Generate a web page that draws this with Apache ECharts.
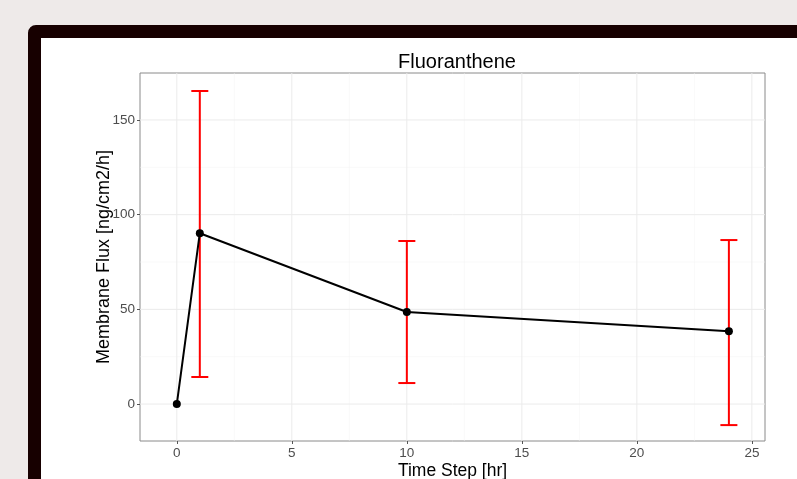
<!DOCTYPE html>
<html>
<head>
<meta charset="utf-8">
<script src="https://cdn.jsdelivr.net/npm/echarts@6/dist/echarts.min.js"></script>
<style>
  html, body { margin: 0; padding: 0; background: #eeeae9; overflow: hidden; }
  #frame {
    position: absolute; left: 28px; top: 25px; width: 800px; height: 500px;
    background: #fff; border: 13px solid #170000; border-radius: 8px;
  }
  #main { position: absolute; left: 0; top: 0; width: 797px; height: 479px; }
</style>
</head>
<body>
<div id="frame"></div>
<div id="main"></div>
<script>
// data
var timeSteps = [0, 1, 10, 24];
var fluxMean = [0, 90.2, 48.6, 38.4];
var errTime = [1, 10, 24];
var errLow = [14.3, 11.1, -11.1];
var errHigh = [165.3, 86.1, 86.6];

var xTicks = [0, 5, 10, 15, 20, 25];
var xMinor = [2.5, 7.5, 12.5, 17.5, 22.5];
var yTicks = [0, 50, 100, 150];
var yMinor = [25, 75, 125];

var chart = echarts.init(document.getElementById('main'), null, { width: 797, height: 479 });

function gridLine(dir, width, color) {
  return function (params, api) {
    var cs = params.coordSys;
    var p = api.coord(dir === 'x' ? [api.value(0), 0] : [0, api.value(0)]);
    var shape = dir === 'x'
      ? { x1: p[0], y1: cs.y, x2: p[0], y2: cs.y + cs.height }
      : { x1: cs.x, y1: p[1], x2: cs.x + cs.width, y2: p[1] };
    return { type: 'line', shape: shape, style: { stroke: color, lineWidth: width }, silent: true };
  };
}

var errData = errTime.map(function (t, i) { return [t, errLow[i], errHigh[i]]; });
var lineData = timeSteps.map(function (t, i) { return [t, fluxMean[i]]; });

var font = 'Liberation Sans';

var option = {
  animation: false,
  backgroundColor: 'transparent',
  title: {
    text: 'Fluoranthene',
    left: 452, top: 47, textAlign: 'center',
    textStyle: { fontFamily: font, fontSize: 20, fontWeight: 'normal', color: '#000' }
  },
  grid: {
    left: 140, top: 73, width: 625, height: 368,
    outerBoundsMode: 'none', containLabel: false,
    show: true, backgroundColor: '#fff', borderColor: '#8a8a8a', borderWidth: 1
  },
  xAxis: {
    type: 'value', min: -1.6, max: 25.57,
    name: 'Time Step [hr]', nameLocation: 'middle', nameGap: 21, nameMoveOverlap: false,
    nameTextStyle: { fontFamily: font, fontSize: 17.5, color: '#000' },
    axisLine: { show: false, onZero: false },
    axisTick: { show: true, length: 3, customValues: xTicks, lineStyle: { color: '#555' } },
    axisLabel: { customValues: xTicks, fontFamily: font, fontSize: 13.5, color: '#4d4d4d', margin: 5 },
    splitLine: { show: false }
  },
  yAxis: {
    type: 'value', min: -19.5, max: 174.8,
    name: 'Membrane Flux [ng/cm2/h]', nameLocation: 'middle', nameGap: 27, nameMoveOverlap: false,
    nameTextStyle: { fontFamily: font, fontSize: 18, color: '#000' },
    axisLine: { show: false, onZero: false },
    axisTick: { show: true, length: 3, customValues: yTicks, lineStyle: { color: '#555' } },
    axisLabel: { customValues: yTicks, fontFamily: font, fontSize: 13.5, color: '#4d4d4d', margin: 5 },
    splitLine: { show: false }
  },
  series: [
    { type: 'custom', renderItem: gridLine('x', 0.5, '#f2f2f2'), data: xMinor, z: 0 },
    { type: 'custom', renderItem: gridLine('y', 0.5, '#f2f2f2'), data: yMinor, z: 0 },
    { type: 'custom', renderItem: gridLine('x', 1, '#ebebeb'), data: xTicks, z: 0 },
    { type: 'custom', renderItem: gridLine('y', 1, '#ebebeb'), data: yTicks, z: 0 },
    {
      type: 'custom', z: 2,
      data: errData,
      renderItem: function (params, api) {
        var lo = api.coord([api.value(0), api.value(1)]);
        var hi = api.coord([api.value(0), api.value(2)]);
        var hw = 8.5;
        var st = { stroke: '#ff0000', lineWidth: 2 };
        return {
          type: 'group',
          children: [
            { type: 'line', shape: { x1: lo[0], y1: lo[1], x2: hi[0], y2: hi[1] }, style: st },
            { type: 'line', shape: { x1: lo[0] - hw, y1: lo[1], x2: lo[0] + hw, y2: lo[1] }, style: st },
            { type: 'line', shape: { x1: hi[0] - hw, y1: hi[1], x2: hi[0] + hw, y2: hi[1] }, style: st }
          ]
        };
      }
    },
    {
      type: 'line', z: 3,
      data: lineData,
      symbol: 'circle', symbolSize: 8,
      itemStyle: { color: '#000' },
      lineStyle: { color: '#000', width: 2 }
    }
  ]
};

chart.setOption(option);
</script>
</body>
</html>
